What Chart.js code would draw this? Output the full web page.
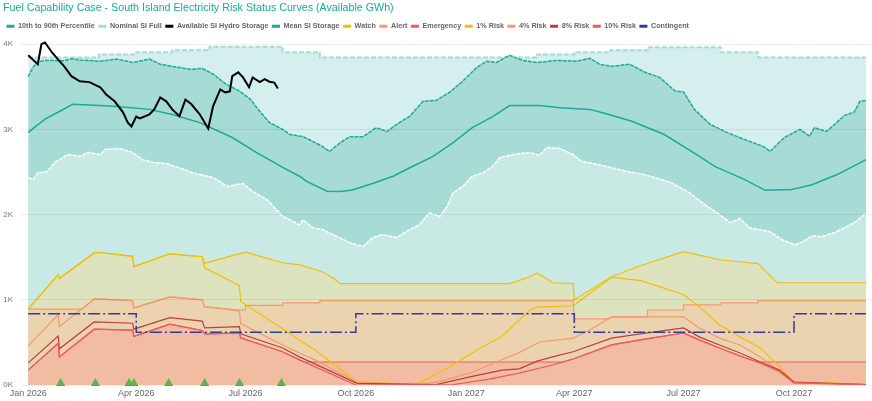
<!DOCTYPE html>
<html>
<head>
<meta charset="utf-8">
<script src="https://cdn.jsdelivr.net/npm/chart.js@4.4.1/dist/chart.umd.min.js"></script>
<style>
  html, body { margin: 0; padding: 0; background: #fff; }
  #wrap { width: 872px; height: 401px; position: relative; }
</style>
</head>
<body>
<div id="wrap"><canvas id="chart_risk"></canvas></div>
<script>
// axis ticks
const tickDates = ['2026-01-01','2026-04-01','2026-07-01','2026-10-01','2027-01-01','2027-04-01','2027-07-01','2027-10-01'];
const tickLabels = ['Jan 2026','Apr 2026','Jul 2026','Oct 2026','Jan 2027','Apr 2027','Jul 2027','Oct 2027'];
const yTicks = [0, 1000, 2000, 3000, 4000];

// storage series (GWh), [date, value]
const p90 = [['2026-01-01',3620],['2026-01-05',3730],['2026-01-09',3790],['2026-01-15',3810],['2026-01-31',3805],['2026-02-06',3830],['2026-02-13',3815],['2026-03-02',3800],['2026-03-16',3825],['2026-03-29',3785],['2026-04-12',3825],['2026-04-21',3765],['2026-05-01',3740],['2026-05-16',3705],['2026-05-26',3715],['2026-06-04',3650],['2026-06-15',3530],['2026-06-26',3450],['2026-07-05',3355],['2026-07-13',3210],['2026-07-21',3080],['2026-08-01',3000],['2026-08-07',2940],['2026-08-18',2915],['2026-08-26',2860],['2026-09-03',2800],['2026-09-09',2740],['2026-09-18',2845],['2026-09-26',2915],['2026-10-07',2915],['2026-10-18',3020],['2026-10-27',2975],['2026-11-04',3060],['2026-11-15',3155],['2026-11-26',3330],['2026-12-07',3340],['2026-12-18',3435],['2026-12-29',3565],['2027-01-10',3730],['2027-01-18',3800],['2027-01-26',3785],['2027-02-06',3870],['2027-02-17',3810],['2027-03-01',3785],['2027-03-17',3810],['2027-04-03',3800],['2027-04-14',3835],['2027-04-22',3765],['2027-05-02',3740],['2027-05-17',3765],['2027-05-30',3670],['2027-06-11',3610],['2027-06-24',3450],['2027-07-01',3440],['2027-07-10',3235],['2027-07-23',3060],['2027-08-06',2965],['2027-08-21',2880],['2027-09-07',2790],['2027-09-11',2740],['2027-09-23',2905],['2027-10-06',3000],['2027-10-14',2920],['2027-10-18',3020],['2027-10-28',2975],['2027-11-04',3060],['2027-11-12',3165],['2027-11-20',3200],['2027-11-25',3330],['2027-11-30',3340]];
const p10 = [['2026-01-01',2435],['2026-01-05',2410],['2026-01-09',2490],['2026-01-17',2505],['2026-01-23',2610],['2026-02-03',2705],['2026-02-13',2685],['2026-02-20',2730],['2026-03-02',2705],['2026-03-06',2765],['2026-03-18',2775],['2026-03-29',2730],['2026-04-06',2645],['2026-04-16',2610],['2026-04-26',2600],['2026-05-07',2550],['2026-05-18',2490],['2026-06-04',2435],['2026-06-16',2330],['2026-06-29',2365],['2026-07-07',2270],['2026-07-19',2175],['2026-08-01',1980],['2026-08-15',1880],['2026-08-18',1940],['2026-08-26',1845],['2026-09-03',1825],['2026-09-15',1745],['2026-09-26',1670],['2026-10-07',1625],['2026-10-15',1730],['2026-10-23',1765],['2026-11-04',1730],['2026-11-15',1825],['2026-11-23',1880],['2026-12-01',2020],['2026-12-10',1980],['2026-12-16',2095],['2026-12-21',2255],['2026-12-29',2330],['2027-01-06',2450],['2027-01-15',2490],['2027-01-23',2565],['2027-01-29',2670],['2027-02-09',2705],['2027-02-23',2730],['2027-03-03',2695],['2027-03-09',2790],['2027-03-20',2775],['2027-03-31',2705],['2027-04-07',2625],['2027-04-20',2590],['2027-05-02',2550],['2027-05-15',2505],['2027-05-26',2480],['2027-06-07',2435],['2027-06-21',2375],['2027-07-06',2255],['2027-07-19',2115],['2027-07-29',2020],['2027-08-09',1905],['2027-08-17',1955],['2027-08-25',1845],['2027-09-11',1800],['2027-09-21',1705],['2027-10-02',1645],['2027-10-08',1680],['2027-10-16',1750],['2027-10-24',1740],['2027-11-04',1790],['2027-11-12',1845],['2027-11-22',1920],['2027-11-30',2020]];
const nominal = [['2026-01-01',3845],['2026-03-01',3880],['2026-04-01',3905],['2026-05-01',3930],['2026-06-01',3970],['2026-08-01',3905],['2026-09-01',3845],['2027-03-01',3880],['2027-04-01',3905],['2027-05-01',3930],['2027-06-01',3965],['2027-08-01',3905],['2027-09-01',3845],['2027-11-30',3845]];
const hydro = [['2026-01-01',3870],['2026-01-09',3765],['2026-01-12',4000],['2026-01-15',4020],['2026-01-21',3900],['2026-01-26',3820],['2026-01-31',3740],['2026-02-06',3625],['2026-02-13',3565],['2026-02-21',3555],['2026-03-02',3495],['2026-03-07',3410],['2026-03-14',3330],['2026-03-21',3200],['2026-03-25',3080],['2026-03-28',3035],['2026-04-01',3150],['2026-04-04',3130],['2026-04-12',3175],['2026-04-16',3235],['2026-04-21',3375],['2026-04-26',3330],['2026-05-01',3235],['2026-05-07',3155],['2026-05-12',3350],['2026-05-17',3295],['2026-05-24',3175],['2026-05-31',3010],['2026-06-04',3270],['2026-06-10',3470],['2026-06-14',3435],['2026-06-18',3445],['2026-06-20',3625],['2026-06-25',3670],['2026-06-29',3610],['2026-07-04',3495],['2026-07-07',3610],['2026-07-13',3555],['2026-07-17',3590],['2026-07-21',3560],['2026-07-25',3550],['2026-07-28',3480]];
const mean = [['2026-01-01',2965],['2026-01-15',3120],['2026-01-27',3210],['2026-02-07',3295],['2026-03-02',3280],['2026-03-16',3270],['2026-04-12',3235],['2026-05-01',3175],['2026-05-24',3080],['2026-06-20',2905],['2026-07-10',2730],['2026-08-01',2555],['2026-08-15',2450],['2026-08-21',2390],['2026-09-07',2275],['2026-09-18',2270],['2026-09-28',2290],['2026-10-15',2365],['2026-11-01',2450],['2026-11-17',2565],['2026-12-04',2680],['2026-12-21',2845],['2027-01-06',3020],['2027-01-23',3150],['2027-02-06',3280],['2027-03-03',3280],['2027-03-20',3255],['2027-04-14',3235],['2027-04-26',3190],['2027-05-19',3095],['2027-06-15',2940],['2027-07-08',2740],['2027-07-27',2565],['2027-08-21',2410],['2027-09-07',2285],['2027-09-29',2295],['2027-10-16',2350],['2027-11-06',2470],['2027-11-30',2645]];

// risk status curves (GWh)
const watchLevel = [['2026-01-01',890],['2026-01-26',1295],['2026-01-27',1250],['2026-02-25',1550],['2026-03-02',1555],['2026-03-29',1510],['2026-03-30',1390],['2026-04-29',1540],['2026-05-26',1505],['2026-05-28',1430],['2026-07-01',1560],['2026-08-01',1435],['2026-08-15',1410],['2026-08-26',1365],['2026-09-03',1330],['2026-09-12',1255],['2026-09-18',1190],['2027-02-06',1190],['2027-02-23',1270],['2027-03-01',1315],['2027-03-14',1200],['2027-03-31',1190],['2027-04-01',1000],['2027-05-02',1270],['2027-05-26',1400],['2027-07-01',1565],['2027-07-31',1470],['2027-09-01',1425],['2027-09-17',1200],['2027-11-30',1200]];
const alertLevel = [['2026-01-01',890],['2026-02-15',890],['2026-02-25',1010],['2026-03-29',990],['2026-03-30',905],['2026-04-29',1035],['2026-05-26',1000],['2026-05-28',920],['2026-06-26',880],['2026-07-01',880],['2026-07-01',935],['2026-08-01',935],['2026-08-01',965],['2026-09-01',965],['2026-09-01',990],['2027-03-31',990],['2027-04-01',776],['2027-04-30',776],['2027-05-02',800],['2027-06-01',800],['2027-06-01',880],['2027-07-01',880],['2027-07-01',940],['2027-08-01',940],['2027-08-01',965],['2027-09-01',965],['2027-09-01',990],['2027-11-30',990]];
const emergencyLevel = [['2026-01-01',175],['2026-01-26',490],['2026-01-27',330],['2026-02-25',655],['2026-03-29',645],['2026-03-30',570],['2026-04-29',715],['2026-05-26',640],['2026-05-28',600],['2026-06-26',610],['2026-06-27',555],['2026-08-01',390],['2026-08-15',295],['2026-08-19',270],['2027-03-22',270],['2027-03-31',305],['2027-05-02',470],['2027-05-26',530],['2027-07-01',610],['2027-07-14',530],['2027-07-31',435],['2027-08-17',340],['2027-09-01',270],['2027-11-30',270]];
const risk1 = [['2026-01-01',890],['2026-01-26',1295],['2026-01-27',1250],['2026-02-25',1550],['2026-03-02',1555],['2026-03-29',1510],['2026-03-30',1390],['2026-04-29',1540],['2026-05-26',1505],['2026-05-28',1375],['2026-06-26',1165],['2026-06-27',980],['2026-08-01',660],['2026-08-15',525],['2026-08-28',410],['2026-10-02',35],['2026-11-21',10],['2026-12-18',210],['2027-01-10',410],['2027-01-31',575],['2027-02-23',880],['2027-03-01',915],['2027-03-31',930],['2027-04-01',940],['2027-05-02',1265],['2027-05-26',1225],['2027-06-11',1155],['2027-07-01',1060],['2027-07-14',920],['2027-07-31',705],['2027-08-17',565],['2027-09-03',435],['2027-09-19',215],['2027-09-30',35],['2027-10-24',25],['2027-11-30',10]];
const risk4 = [['2026-01-01',460],['2026-01-26',825],['2026-01-27',685],['2026-02-25',1010],['2026-03-29',990],['2026-03-30',905],['2026-04-29',1035],['2026-05-26',1000],['2026-05-28',920],['2026-06-26',870],['2026-06-27',720],['2026-08-01',470],['2026-08-15',375],['2026-08-28',295],['2026-10-02',35],['2026-11-21',5],['2026-12-10',40],['2027-01-06',150],['2027-01-31',300],['2027-02-14',380],['2027-03-03',505],['2027-03-31',550],['2027-04-14',645],['2027-05-02',800],['2027-07-01',800],['2027-07-14',670],['2027-07-31',550],['2027-08-17',470],['2027-09-03',330],['2027-09-19',155],['2027-10-01',25],['2027-11-30',5]];
const risk8 = [['2026-01-01',260],['2026-01-26',575],['2026-01-27',425],['2026-02-25',740],['2026-03-29',725],['2026-03-30',655],['2026-04-29',790],['2026-05-26',750],['2026-05-28',670],['2026-06-26',685],['2026-06-27',600],['2026-08-01',435],['2026-08-15',330],['2026-10-02',20],['2026-12-07',5],['2027-01-04',95],['2027-01-31',175],['2027-02-14',190],['2027-03-01',280],['2027-03-14',330],['2027-03-31',390],['2027-05-02',550],['2027-05-26',600],['2027-07-01',670],['2027-07-14',565],['2027-07-31',470],['2027-08-17',375],['2027-09-03',270],['2027-09-19',175],['2027-10-01',35],['2027-11-30',5]];
const risk10 = [['2026-01-01',175],['2026-01-26',490],['2026-01-27',330],['2026-02-25',655],['2026-03-29',645],['2026-03-30',570],['2026-04-29',715],['2026-05-26',640],['2026-05-28',600],['2026-06-26',610],['2026-06-27',555],['2026-08-01',390],['2026-08-15',295],['2026-10-01',0],['2026-12-21',5],['2027-01-20',70],['2027-02-14',140],['2027-03-14',235],['2027-03-31',305],['2027-05-02',470],['2027-05-26',530],['2027-07-01',610],['2027-07-14',530],['2027-07-31',435],['2027-08-17',340],['2027-09-03',255],['2027-09-19',155],['2027-10-01',25],['2027-11-30',5]];
const contingent = [['2026-01-01',835],['2026-04-01',620],['2026-10-01',835],['2027-04-01',620],['2027-10-01',835],['2027-11-30',835]];
const flagDates = ['2026-01-28','2026-02-26','2026-03-26','2026-03-30','2026-04-28','2026-05-28','2026-06-26','2026-07-31'];
const flagValue = 20;

const START = Date.parse('2026-01-01');
const day = s => (Date.parse(s) - START) / 864e5;
const pts = rows => rows.map(([d, v]) => ({x: day(d), y: v}));

const TEAL = '#1aab9b';
const YELLOW = '#f0c000';
const ORANGE = '#f59a6a';
const RED = '#f05a5a';
const FONT = "'Liberation Sans', Arial, sans-serif";

const line = (label, rows, color, extra) => Object.assign({
  label: label,
  data: pts(rows),
  borderColor: color,
  backgroundColor: color,
  borderWidth: 1.5,
  pointRadius: 0,
  pointHoverRadius: 0,
  fill: false,
  tension: 0
}, extra);

const datasets = [
  line('10th to 90th Percentile', p90, TEAL, {fill: 'origin', backgroundColor: '#a7dbd5', borderDash: [4, 1], order: 90}),
  line('Nominal SI Full', nominal, '#a4dcd6', {fill: 'origin', backgroundColor: '#d5eeee', stepped: true, borderWidth: 2, borderDash: [5, 2], order: 100}),
  line('Available SI Hydro Storage', hydro, '#000000', {borderWidth: 2, order: 1}),
  line('Mean SI Storage', mean, TEAL, {order: 20}),
  line('Watch', watchLevel, YELLOW, {fill: 'origin', backgroundColor: '#dde3bf', borderWidth: 1.2, order: 80}),
  line('Alert', alertLevel, ORANGE, {fill: 'origin', backgroundColor: '#ecd3b0', borderWidth: 1.2, order: 70}),
  line('Emergency', emergencyLevel, RED, {fill: 'origin', backgroundColor: '#f2bca2', borderWidth: 1.2, order: 60}),
  line('1% Risk', risk1, YELLOW, {borderWidth: 1.2, order: 15}),
  line('4% Risk', risk4, ORANGE, {borderWidth: 1.2, order: 14}),
  line('8% Risk', risk8, '#b84040', {borderWidth: 1.2, order: 13}),
  line('10% Risk', risk10, RED, {borderWidth: 1.2, order: 12}),
  line('Contingent', contingent, '#2e3c96', {stepped: true, borderDash: [12, 3, 2, 3], order: 5}),
  line('10th Percentile', p10, '#ffffff', {fill: 'origin', backgroundColor: '#c9e9e5', borderDash: [4, 1], order: 85}),
  {
    label: 'flags',
    data: flagDates.map(d => ({x: day(d), y: flagValue})),
    showLine: false,
    pointStyle: 'triangle',
    pointRadius: 5.3,
    pointHoverRadius: 5.3,
    pointBorderWidth: 0,
    backgroundColor: '#5cb54a',
    borderColor: '#5cb54a',
    clip: false,
    order: 0
  }
];

const chartRisk = document.getElementById('chart_risk');
const myChart = new Chart(chartRisk, {
  type: 'line',
  data: {datasets: datasets},
  options: {
    responsive: true,
    maintainAspectRatio: false,
    animation: false,
    layout: {
      autoPadding: false,
      padding: {left: 3, right: 0, top: 0, bottom: 0}
    },
    plugins: {
      title: {
        display: true,
        text: 'Fuel Capability Case - South Island Electricity Risk Status Curves (Available GWh)',
        align: 'start',
        color: '#1aa99a',
        font: {family: FONT, size: 10.7, weight: 'normal'},
        padding: {top: 2, bottom: 4.4}
      },
      legend: {
        align: 'start',
        labels: {
          boxWidth: 8,
          boxHeight: 3,
          padding: 3.5,
          color: '#666666',
          font: {family: FONT, size: 7.2, weight: 'bold'},
          sort: (a, b) => a.datasetIndex - b.datasetIndex,
          filter: item => item.datasetIndex < 12,
          generateLabels: function(chart) {
            const items = Chart.defaults.plugins.legend.labels.generateLabels(chart);
            return items.map(item => {
              item.fillStyle = item.strokeStyle;
              item.lineWidth = 0;
              item.lineDash = [];
              return item;
            });
          }
        }
      },
      tooltip: {enabled: false}
    },
    scales: {
      x: {
        type: 'linear',
        min: day('2026-01-01') - 6,
        max: day('2027-11-30') + 5,
        afterBuildTicks: s => { s.ticks = tickDates.map(d => ({value: day(d)})); },
        afterFit: s => { s.height = 16; },
        ticks: {
          callback: (value, index) => tickLabels[index],
          autoSkip: false,
          maxRotation: 0,
          padding: 3,
          color: '#666666',
          font: {family: FONT, size: 9}
        },
        grid: {display: false, drawTicks: false},
        border: {display: false}
      },
      y: {
        min: 0,
        max: 4050,
        afterBuildTicks: s => { s.ticks = yTicks.map(v => ({value: v})); },
        afterFit: s => { s.width = 18; },
        ticks: {
          callback: v => (v / 1000) + 'K',
          padding: 8,
          color: '#777777',
          font: {family: FONT, size: 8}
        },
        grid: {color: 'rgba(0,0,0,0.07)', drawTicks: false, z: 1},
        border: {display: false}
      }
    }
  }
});
</script>
</body>
</html>
